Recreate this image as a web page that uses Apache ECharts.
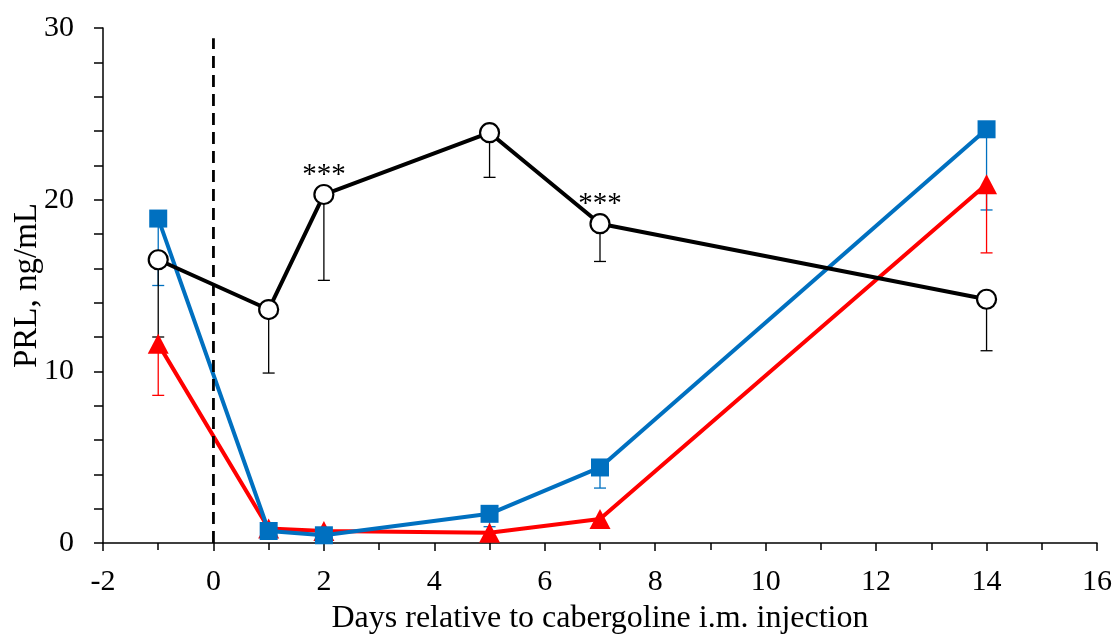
<!DOCTYPE html>
<html>
<head>
<meta charset="utf-8">
<script src="https://cdn.jsdelivr.net/npm/echarts@6/dist/echarts.min.js"></script>
<style>
html,body{margin:0;padding:0;background:#fff;}
#chart{width:1118px;height:637px;}
</style>
</head>
<body>
<div id="chart"></div>
<script>
// ---- data ----
const xDays = [-1, 1, 2, 5, 7, 14];
const blackMean = [16.5, 13.6, 20.3, 23.9, 18.6, 14.2];
const blackLow  = [12.0, 9.9, 15.3, 21.3, 16.4, 11.2];
const blueMean  = [18.9, 0.7, 0.45, 1.7, 4.4, 24.1];
const blueLow   = [15.0, null, null, 0.95, 3.2, 19.4];
const redMean   = [11.6, 0.85, 0.7, 0.6, 1.4, 20.9];
const redLow    = [8.6, null, null, null, null, 16.9];
const annotations = ['', '', '***', '', '***', ''];
const injectionDay = 0;
const injectionLineTop = 29.4;
const xTitle = 'Days relative to cabergoline i.m. injection';
const yTitle = 'PRL, ng/mL';

const FONT = '"Liberation Serif", "Times New Roman", serif';
const BLUE = '#0070C0', RED = '#FF0000', BLACK = '#000000';

function pairs(means) { return xDays.map((d, i) => [d, means[i]]); }
function errData(means, lows) {
  const out = [];
  xDays.forEach((d, i) => { if (lows[i] != null) out.push([d, means[i], lows[i]]); });
  return out;
}
function errRender(color) {
  return function (params, api) {
    const x = api.value(0), m = api.value(1), lo = api.value(2);
    const p1 = api.coord([x, m]);
    const p2 = api.coord([x, lo]);
    const hw = 6;
    return {
      type: 'group',
      children: [
        { type: 'line', shape: { x1: p1[0], y1: p1[1], x2: p2[0], y2: p2[1] }, style: { stroke: color, lineWidth: 1.3 } },
        { type: 'line', shape: { x1: p2[0] - hw, y1: p2[1], x2: p2[0] + hw, y2: p2[1] }, style: { stroke: color, lineWidth: 1.3 } }
      ]
    };
  };
}

const chart = echarts.init(document.getElementById('chart'), null, { renderer: 'canvas' });
chart.setOption({
  animation: false,
  backgroundColor: '#fff',
  grid: { left: 103, right: 21, top: 28, bottom: 94, containLabel: false, outerBoundsMode: 'none' },
  xAxis: {
    type: 'value', min: -2, max: 16, interval: 2,
    name: xTitle, nameLocation: 'middle', nameGap: 60, nameMoveOverlap: false,
    nameTextStyle: { fontFamily: FONT, fontSize: 32, color: '#000' },
    axisLine: { show: true, onZero: false, lineStyle: { color: '#000', width: 1.5 } },
    axisTick: { show: true, inside: false, length: 8, lineStyle: { color: '#000', width: 1.5 } },
    minorTick: { show: true, splitNumber: 2, length: 7, lineStyle: { color: '#000', width: 1.5 } },
    axisLabel: { fontFamily: FONT, fontSize: 30, color: '#000', margin: 24 },
    splitLine: { show: false }
  },
  yAxis: {
    type: 'value', min: 0, max: 30, interval: 10,
    name: yTitle, nameLocation: 'middle', nameGap: 59, nameMoveOverlap: false,
    nameTextStyle: { fontFamily: FONT, fontSize: 33, color: '#000' },
    axisLine: { show: true, onZero: false, lineStyle: { color: '#000', width: 1.5 } },
    axisTick: { show: true, inside: false, length: 9, lineStyle: { color: '#000', width: 1.5 } },
    minorTick: { show: true, splitNumber: 5, length: 9, lineStyle: { color: '#000', width: 1.5 } },
    axisLabel: { fontFamily: FONT, fontSize: 30, color: '#000', margin: 29 },
    splitLine: { show: false }
  },
  series: [
    { type: 'custom', name: 'blue err', renderItem: errRender(BLUE), data: errData(blueMean, blueLow), z: 1, silent: true },
    { type: 'custom', name: 'red err', renderItem: errRender(RED), data: errData(redMean, redLow), z: 1, silent: true },
    { type: 'custom', name: 'black err', renderItem: errRender(BLACK), data: errData(blackMean, blackLow), z: 1, silent: true },
    {
      type: 'line', name: 'Red group', data: pairs(redMean), z: 2,
      symbol: 'triangle', symbolSize: [21, 20], showAllSymbol: true,
      lineStyle: { color: RED, width: 4 }, itemStyle: { color: RED, borderWidth: 0 }
    },
    {
      type: 'line', name: 'Blue group', data: pairs(blueMean), z: 3,
      symbol: 'rect', symbolSize: 18, showAllSymbol: true,
      lineStyle: { color: BLUE, width: 4 }, itemStyle: { color: BLUE, borderWidth: 0 }
    },
    {
      type: 'line', name: 'Black group', data: pairs(blackMean), z: 4,
      symbol: 'circle', symbolSize: 19, showAllSymbol: true,
      lineStyle: { color: BLACK, width: 4 }, itemStyle: { color: '#fff', borderColor: BLACK, borderWidth: 2.2 },
      label: {
        show: true, position: 'top', distance: -6,
        formatter: p => annotations[p.dataIndex],
        fontFamily: FONT, fontSize: 29, color: '#000'
      }
    },
    {
      type: 'line', name: 'Injection', data: [[injectionDay, 0], [injectionDay, injectionLineTop]], z: 5,
      symbol: 'none', silent: true,
      lineStyle: { color: BLACK, width: 2.8, type: [12, 7] }
    }
  ]
});
</script>
</body>
</html>
